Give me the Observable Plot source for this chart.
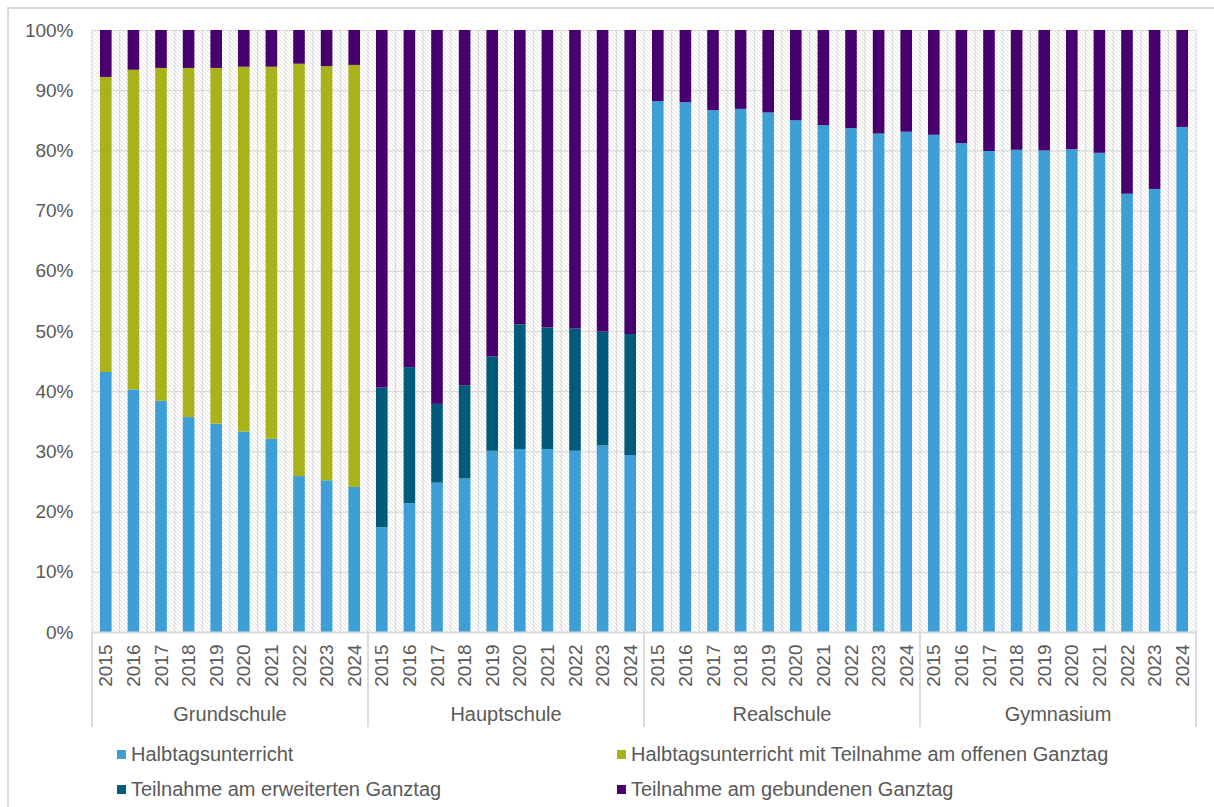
<!DOCTYPE html>
<html>
<head>
<meta charset="utf-8">
<script src="https://cdn.jsdelivr.net/npm/d3@7"></script>
<script src="https://cdn.jsdelivr.net/npm/@observablehq/plot@0.6"></script>
<style>
  html, body { margin: 0; padding: 0; background: #fff; }
  #wrap { position: relative; width: 1214px; height: 807px; overflow: hidden; font-family: "Liberation Sans", Arial, sans-serif; color: #595959; }
  #border { position: absolute; left: 7px; top: 7px; width: 1240px; height: 840px; border: 2px solid #d9d9d9; box-sizing: border-box; }
  #chart { position: absolute; left: 0; top: 0; width: 1214px; }
  .lg { position: absolute; font-size: 20px; line-height: 20px; white-space: nowrap; transform: translateY(-50%); display: flex; align-items: center; }
  .lg .sw { width: 9px; height: 9px; margin-right: 5px; flex: none; }
</style>
</head>
<body>
<div id="wrap">
  <div id="border"></div>
  <div id="chart"></div>
  <div id="legend"></div>
</div>
<script>
// ---------- data ----------
const schools = ["Grundschule", "Hauptschule", "Realschule", "Gymnasium"];
const years = ["2015", "2016", "2017", "2018", "2019", "2020", "2021", "2022", "2023", "2024"];
const categories = [
  "Halbtagsunterricht",
  "Halbtagsunterricht mit Teilnahme am offenen Ganztag",
  "Teilnahme am erweiterten Ganztag",
  "Teilnahme am gebundenen Ganztag"
];
const colors = ["#3c9fd6", "#a9b219", "#005b7a", "#48006f"];
const yTicks = [0, 10, 20, 30, 40, 50, 60, 70, 80, 90, 100];

// Grundschule
const grundHalbtag   = [43.2, 40.3, 38.4, 35.7, 34.6, 33.3, 32.1, 25.9, 25.2, 24.1];
const grundOffen     = [49.0, 53.1, 55.3, 58.0, 59.1, 60.6, 61.8, 68.5, 68.8, 70.1];
const grundErweitert = [0, 0, 0, 0, 0, 0, 0, 0, 0, 0];
const grundGebunden  = [7.8, 6.6, 6.3, 6.3, 6.3, 6.1, 6.1, 5.6, 6.0, 5.8];
// Hauptschule
const hauptHalbtag   = [17.4, 21.4, 24.8, 25.5, 30.1, 30.4, 30.4, 30.1, 31.0, 29.4];
const hauptOffen     = [0, 0, 0, 0, 0, 0, 0, 0, 0, 0];
const hauptErweitert = [23.2, 22.6, 13.1, 15.5, 15.7, 20.7, 20.2, 20.3, 18.9, 20.1];
const hauptGebunden  = [59.4, 56.0, 62.1, 59.0, 54.2, 48.9, 49.4, 49.6, 50.1, 50.5];
// Realschule
const realHalbtag    = [88.2, 88.0, 86.7, 86.9, 86.3, 85.0, 84.2, 83.7, 82.8, 83.1];
const realOffen      = [0, 0, 0, 0, 0, 0, 0, 0, 0, 0];
const realErweitert  = [0, 0, 0, 0, 0, 0, 0, 0, 0, 0];
const realGebunden   = [11.8, 12.0, 13.3, 13.1, 13.7, 15.0, 15.8, 16.3, 17.2, 16.9];
// Gymnasium
const gymHalbtag     = [82.6, 81.2, 79.9, 80.1, 80.0, 80.2, 79.6, 72.8, 73.6, 83.9];
const gymOffen       = [0, 0, 0, 0, 0, 0, 0, 0, 0, 0];
const gymErweitert   = [0, 0, 0, 0, 0, 0, 0, 0, 0, 0];
const gymGebunden    = [17.4, 18.8, 20.1, 19.9, 20.0, 19.8, 20.4, 27.2, 26.4, 16.1];

const seriesBySchool = [
  [grundHalbtag, grundOffen, grundErweitert, grundGebunden],
  [hauptHalbtag, hauptOffen, hauptErweitert, hauptGebunden],
  [realHalbtag, realOffen, realErweitert, realGebunden],
  [gymHalbtag, gymOffen, gymErweitert, gymGebunden]
];

// ---------- table ----------
const keys = [];
const rows = [];
schools.forEach((s, si) => {
  years.forEach((yr, yi) => {
    const key = s + "|" + yr;
    keys.push(key);
    categories.forEach((c, ci) => {
      rows.push({key, school: s, year: yr, cat: c, value: seriesBySchool[si][ci][yi]});
    });
  });
});

// ---------- plot ----------
const W = 1214, H = 740, ML = 92, MR = 18, MT = 30, MB = 108;
const FONT = '"Liberation Sans", Arial, sans-serif';
const GRID = "#d9d9d9";

const plot = Plot.plot({
  width: W, height: H,
  marginLeft: ML, marginRight: MR, marginTop: MT, marginBottom: MB,
  style: {fontFamily: FONT, fontSize: "19px", color: "#595959", background: "transparent", overflow: "visible"},
  x: {type: "band", domain: keys, paddingInner: 0.58, paddingOuter: 0.29, align: 0.5, round: false},
  y: {domain: [0, 100]},
  color: {domain: categories, range: colors},
  marks: [
    Plot.gridY(yTicks, {stroke: GRID, strokeOpacity: 1, strokeWidth: 1.2}),
    Plot.barY(rows, {x: "key", y: "value", fill: "cat", inset: 0}),
    Plot.ruleY([0], {stroke: GRID, strokeWidth: 1.8}),
    Plot.axisY(yTicks, {tickSize: 0, tickPadding: 19, tickFormat: d => d + "%", label: null, fill: "#595959"}),
    Plot.axisX({tickRotate: -90, tickSize: 0, tickPadding: 12, tickFormat: k => k.split("|")[1], label: null, fill: "#595959"})
  ]
});

document.getElementById("chart").appendChild(plot);

// ---------- background, slot grid, group separators & labels (via plot scales) ----------
const svg = d3.select(plot);
const xs = plot.scale("x");
const ys = plot.scale("y");
const bw = xs.bandwidth;
const step = xs.step;
const yBottom = ys.apply(0), yTop = ys.apply(100);
const slotLeft = k => xs.apply(k) - (step - bw) / 2;
const xLeft = slotLeft(keys[0]);
const xRight = slotLeft(keys[keys.length - 1]) + step;

const back = svg.insert("g", ":first-child");
const defs = back.append("defs");
const pat = defs.append("pattern")
  .attr("id", "hatch").attr("patternUnits", "userSpaceOnUse")
  .attr("width", 4).attr("height", 4);
pat.append("rect").attr("width", 4).attr("height", 4).attr("fill", "#ffffff");
pat.append("path").attr("d", "M-1,-1L5,5M-1,3L1,5M3,-1L5,1")
  .attr("stroke", "#e2e2e2").attr("stroke-width", 1);
back.append("rect")
  .attr("x", xLeft).attr("y", yTop)
  .attr("width", xRight - xLeft).attr("height", yBottom - yTop)
  .attr("fill", "url(#hatch)");
const boundaries = keys.map(slotLeft).concat([xRight]);
back.selectAll("line.slot").data(boundaries).join("line")
  .attr("x1", d => d).attr("x2", d => d)
  .attr("y1", yTop).attr("y2", yBottom)
  .attr("stroke", GRID).attr("stroke-width", 1.2);

const front = svg.append("g");
const groupEdges = schools.map(s => slotLeft(s + "|" + years[0])).concat([xRight]);
front.selectAll("line.sep").data(groupEdges).join("line")
  .attr("x1", d => d).attr("x2", d => d)
  .attr("y1", yBottom).attr("y2", yBottom + 95)
  .attr("stroke", GRID).attr("stroke-width", 1.8);
front.selectAll("text.grp").data(schools).join("text")
  .attr("x", s => (slotLeft(s + "|" + years[0]) + slotLeft(s + "|" + years[years.length - 1]) + step) / 2)
  .attr("y", yBottom + 89)
  .attr("text-anchor", "middle")
  .attr("font-family", FONT).attr("font-size", 20).attr("fill", "#595959")
  .text(s => s);

// ---------- legend ----------
const legend = document.getElementById("legend");
const legendPos = [
  {left: 117, top: 754}, {left: 617, top: 754},
  {left: 117, top: 789}, {left: 617, top: 789}
];
categories.forEach((c, i) => {
  const item = document.createElement("div");
  item.className = "lg";
  item.style.left = legendPos[i].left + "px";
  item.style.top = legendPos[i].top + "px";
  const sw = document.createElement("span");
  sw.className = "sw";
  sw.style.background = colors[i];
  const tx = document.createElement("span");
  tx.textContent = c;
  item.appendChild(sw);
  item.appendChild(tx);
  legend.appendChild(item);
});
</script>
</body>
</html>
